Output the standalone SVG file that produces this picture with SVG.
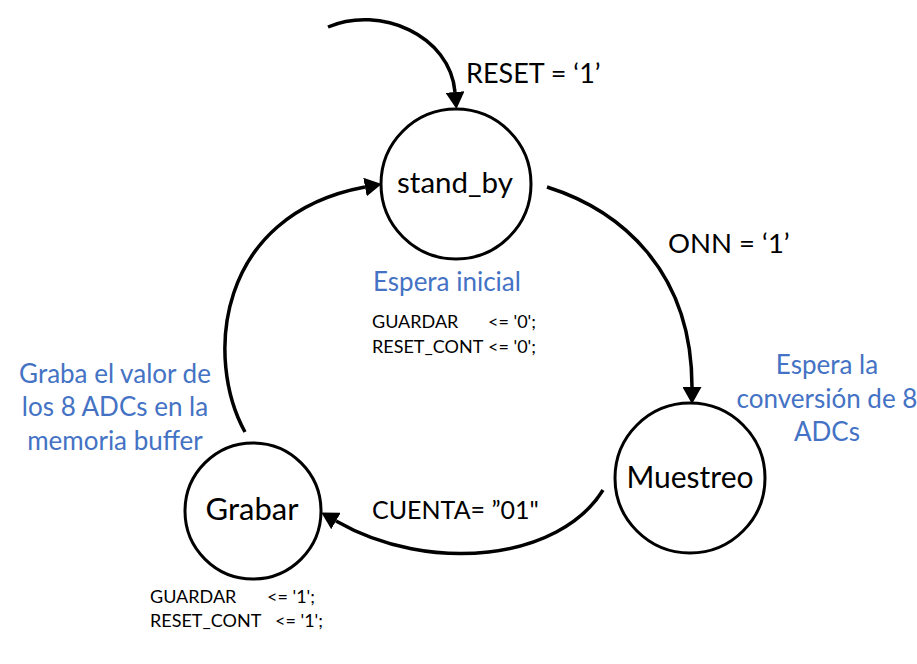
<svg xmlns="http://www.w3.org/2000/svg" width="917" height="664" viewBox="0 0 917 664">
<style>
.st{fill:#fff;stroke:#000;stroke-width:3}
.cn{fill:none;stroke:#000;stroke-width:3.5}
.lbl{font-family:Lato,"Liberation Sans",sans-serif;fill:#000}
.blue{font-family:Lato,"Liberation Sans",sans-serif;fill:#4472C4;font-size:26px}
.code{font-family:Lato,"Liberation Sans",sans-serif;fill:#000;font-size:18px}
</style>
<defs>
<marker id="ah" markerUnits="userSpaceOnUse" markerWidth="17" markerHeight="19" viewBox="0 0 17 19" refX="0" refY="9.5" orient="auto">
<path d="M0,0 L17,9.5 L0,19 z" fill="#000"/>
</marker>
</defs>
<rect width="917" height="664" fill="#fff"/>
<g id="connectors">
<path class="cn" d="M328 27 C380 5, 450 35, 455 92" marker-end="url(#ah)"/>
<path class="cn" d="M547 187 C620 210, 692 270, 692 387" marker-end="url(#ah)"/>
<path class="cn" d="M603 490 C560 560, 430 575, 336 521" marker-end="url(#ah)"/>
<path class="cn" d="M245 432 C205 360, 215 215, 365 187" marker-end="url(#ah)"/>
<text class="lbl" x="466" y="83" font-size="27">RESET = ‘1’</text>
<text class="lbl" x="668" y="253" font-size="27.5">ONN = ‘1’</text>
<text class="lbl" x="372" y="519" font-size="25">CUENTA= ”01"</text>
</g>
<g id="stand_by">
<circle class="st" cx="456" cy="184" r="75"/>
<text class="lbl" x="455" y="193" font-size="29.5" text-anchor="middle">stand_by</text>
<text class="blue" x="373" y="291">Espera inicial</text>
<text class="code" y="328"><tspan x="372">GUARDAR</tspan><tspan x="488">&lt;= '0';</tspan></text>
<text class="code" y="353"><tspan x="372">RESET_CONT</tspan><tspan x="488">&lt;= '0';</tspan></text>
</g>
<g id="Muestreo">
<circle class="st" cx="690" cy="478" r="75"/>
<text class="lbl" x="690" y="488" font-size="30" text-anchor="middle">Muestreo</text>
<text class="blue" x="827" y="374" text-anchor="middle">Espera la</text>
<text class="blue" x="827" y="408" text-anchor="middle">conversión de 8</text>
<text class="blue" x="827" y="441" text-anchor="middle">ADCs</text>
</g>
<g id="Grabar">
<circle class="st" cx="253" cy="511" r="68"/>
<text class="lbl" x="252" y="520" font-size="31" text-anchor="middle">Grabar</text>
<text class="blue" x="115" y="383" text-anchor="middle">Graba el valor de</text>
<text class="blue" x="115" y="416" text-anchor="middle">los 8 ADCs en la</text>
<text class="blue" x="115" y="450" text-anchor="middle">memoria buffer</text>
<text class="code" y="603"><tspan x="150">GUARDAR</tspan><tspan x="267">&lt;= '1';</tspan></text>
<text class="code" y="627"><tspan x="150">RESET_CONT</tspan><tspan x="275">&lt;= '1';</tspan></text>
</g>
</svg>
